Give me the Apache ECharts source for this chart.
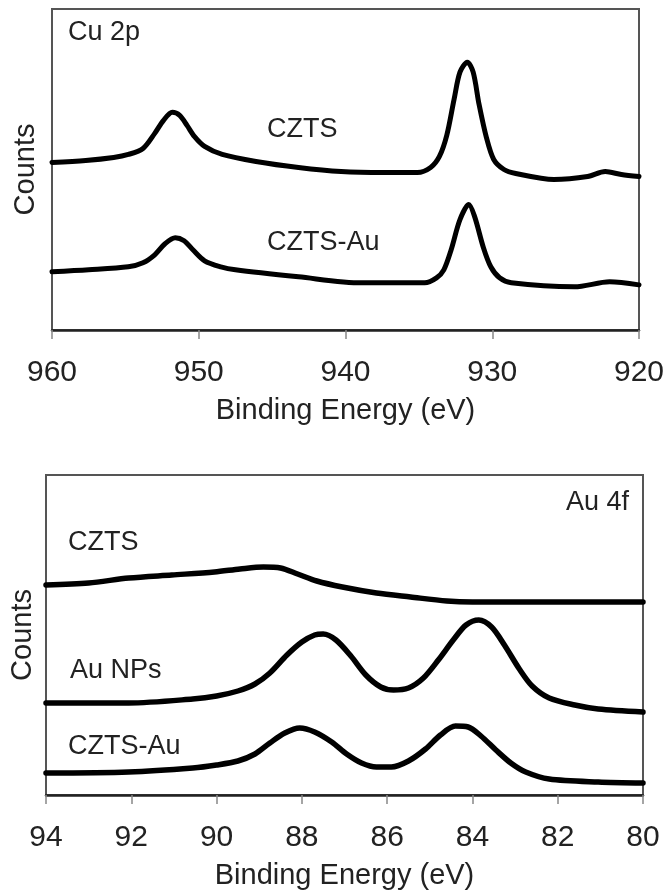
<!DOCTYPE html>
<html>
<head>
<meta charset="utf-8">
<script src="https://cdn.jsdelivr.net/npm/echarts@6/dist/echarts.min.js"></script>
<style>html,body{margin:0;padding:0;background:#fff}#c{width:668px;height:894px}</style>
</head>
<body>
<div id="c"></div>
<script>
// ---- Cu 2p panel (binding energy eV, counts a.u.) ----
const cuTicks = [960, 950, 940, 930, 920];
const cuCZTS = [[960,167],[957.7,169],[955.8,172],[954.8,175],[953.8,181],[953.0,196],[952.4,209],[951.8,217],[951.3,214],[950.8,204],[950.3,193],[949.6,183],[948.4,175],[946.1,168],[943.2,162],[940.3,158],[937.4,157],[935.1,157],[934.2,162],[933.6,173],[933.1,194],[932.6,230],[932.2,257],[931.7,267],[931.3,257],[930.9,225],[930.4,192],[929.9,170],[929.2,160],[928.4,156],[925.8,150],[923.5,153],[922.3,158],[921.2,155],[920,153]];
const cuCZTSAu = [[960,58],[957.5,60],[954.8,63],[953.8,67],[953.0,75],[952.3,86],[951.6,92],[951.0,89],[950.4,80],[949.6,69],[948.5,63],[947.5,60],[943.2,53],[938.9,47],[934.6,47],[933.8,52],[933.3,60],[932.8,80],[932.2,110],[931.6,125],[931.2,113],[930.6,82],[930.1,63],[929.5,52],[928.7,47],[924.4,43],[922,48],[920,45]];

// ---- Au 4f panel ----
const auTicks = [94, 92, 90, 88, 86, 84, 82, 80];
const auCZTS = [[94,210],[93,212],[92.06,217],[91.05,220],[90.05,223],[89.45,226],[88.9,228],[88.5,227],[88.1,221],[87.65,214],[87.05,208],[86.25,202],[85.45,198],[84.6,194],[84.0,193],[83.05,193],[81.55,193],[80,193]];
const auNPs = [[94,92],[92.06,92],[90.56,96],[90.0,99],[89.5,104],[89.1,111],[88.75,122],[88.35,140],[88.0,153],[87.7,160],[87.5,161],[87.2,155],[86.85,139],[86.5,120],[86.15,108],[85.85,105],[85.5,107],[85.15,117],[84.8,135],[84.45,155],[84.15,170],[83.85,175],[83.55,168],[83.25,150],[82.9,126],[82.6,109],[82.2,97],[81.6,90],[81.05,86],[80,83]];
const auCZTSAu = [[94,22],[92.06,23],[90.56,27],[90.0,30],[89.5,34],[89.1,41],[88.75,52],[88.4,62],[88.05,67],[87.7,63],[87.3,53],[86.95,41],[86.6,32],[86.25,28],[85.9,28],[85.5,34],[85.1,46],[84.75,60],[84.4,69],[84.1,68],[83.8,59],[83.45,45],[83.1,32],[82.75,23],[82.2,16],[81.05,13],[80,12]];

const FONT = "'Liberation Sans', Arial, sans-serif";
const chart = echarts.init(document.getElementById('c'));

function xAxisFor(gi, min, max, interval) {
  return {
    gridIndex: gi, type: 'value', min: min, max: max, interval: interval, inverse: true,
    name: 'Binding Energy (eV)', nameLocation: 'middle', nameGap: 66,
    nameTextStyle: {fontFamily: FONT, fontSize: 29, color: '#222'},
    axisLine: {show: true, lineStyle: {color: '#222', width: 2.5}},
    axisTick: {show: true, length: 9, lineStyle: {color: '#888', width: 1.5}},
    axisLabel: {show: true, margin: 28, fontFamily: FONT, fontSize: 30, color: '#222', showMinLabel: true, showMaxLabel: true},
    splitLine: {show: false}
  };
}
function yAxisFor(gi, gap) {
  return {
    gridIndex: gi, type: 'value', min: 0, max: 320,
    name: 'Counts', nameLocation: 'middle', nameGap: gap,
    nameTextStyle: {fontFamily: FONT, fontSize: 29, color: '#222'},
    axisLine: {show: true, lineStyle: {color: '#555', width: 2}},
    axisTick: {show: false}, axisLabel: {show: false}, splitLine: {show: false}
  };
}
function line(xi, data, w) {
  return {type: 'line', xAxisIndex: xi, yAxisIndex: xi, data: data, smooth: 0.3, symbol: 'none',
    lineStyle: {color: '#000', width: w, join: 'round', cap: 'round'}, silent: true, animation: false};
}
function label(text, x, y, align) {
  return {type: 'text', x: x, y: y, silent: true,
    style: {text: text, font: '27px ' + FONT, fill: '#222', align: align || 'left', verticalAlign: 'middle'}};
}

chart.setOption({
  animation: false,
  grid: [
    {left: 52, right: 29, top: 9, height: 321, show: true, borderColor: '#555', borderWidth: 2},
    {left: 45, right: 25, top: 475, height: 320, show: true, borderColor: '#555', borderWidth: 2}
  ],
  xAxis: [xAxisFor(0, 920, 960, 10), xAxisFor(1, 80, 94, 2)],
  yAxis: [yAxisFor(0, 12), yAxisFor(1, 9)],
  series: [
    line(0, cuCZTS, 5), line(0, cuCZTSAu, 5),
    line(1, auCZTS, 5.5), line(1, auNPs, 5.5), line(1, auCZTSAu, 5.5)
  ],
  graphic: [
    label('Cu 2p', 68, 33),
    label('CZTS', 267, 130),
    label('CZTS-Au', 267, 243),
    label('Au 4f', 629, 503, 'right'),
    label('CZTS', 68, 543),
    label('Au NPs', 70, 671),
    label('CZTS-Au', 68, 747)
  ]
});
</script>
</body>
</html>
